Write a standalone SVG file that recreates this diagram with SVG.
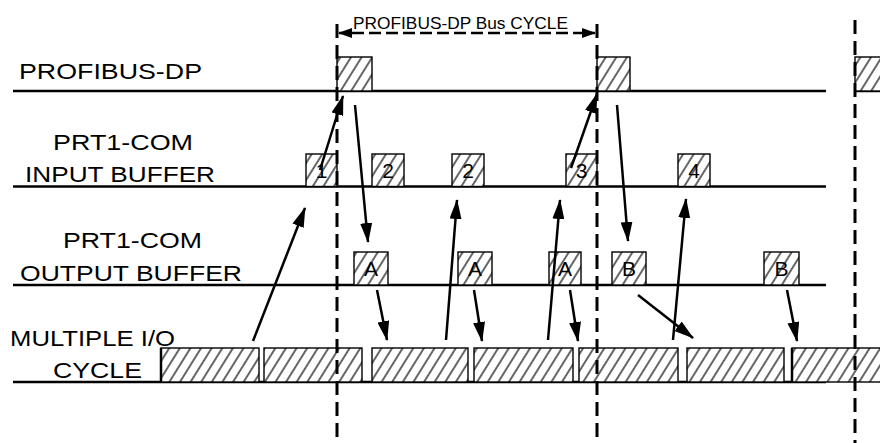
<svg xmlns="http://www.w3.org/2000/svg" width="880" height="443" viewBox="0 0 880 443">
<style>
.t{font-family:"Liberation Sans",Arial,sans-serif;font-size:22px;fill:#000}
.s{font-family:"Liberation Sans",Arial,sans-serif;font-size:17px;fill:#000}
.n{font-family:"Liberation Sans",Arial,sans-serif;font-size:21px;fill:#000;text-anchor:middle}
.base{stroke:#000;stroke-width:2.5;fill:none}
.hb{fill:url(#hatch);stroke:#000;stroke-width:1.4}
.dash{stroke:#000;stroke-width:3;stroke-dasharray:14 7;fill:none}
.arr{stroke:#000;stroke-width:2.5;fill:none;marker-end:url(#ah)}
</style>
<defs>
<pattern id="hatch" patternUnits="userSpaceOnUse" width="9" height="9" patternTransform="rotate(32)">
<rect width="9" height="9" fill="#fff"/>
<line x1="4" y1="0" x2="4" y2="9" stroke="#000" stroke-width="1.2"/>
</pattern>
<marker id="ah" markerUnits="userSpaceOnUse" markerWidth="20" markerHeight="12" refX="19" refY="6" orient="auto">
<path d="M0,0 L20,6 L0,12 Z" fill="#000"/>
</marker>
<marker id="dh" markerUnits="userSpaceOnUse" markerWidth="14" markerHeight="10" refX="13" refY="5" orient="auto">
<path d="M0,0 L14,5 L0,10 Z" fill="#000"/>
</marker>
</defs>
<rect width="880" height="443" fill="#fff"/>

<g id="timelines">
<line class="base" x1="13" y1="91" x2="826" y2="91"/>
<line class="base" x1="855" y1="91" x2="880" y2="91"/>
<line class="base" x1="13" y1="186.5" x2="826" y2="186.5"/>
<line class="base" x1="13" y1="285" x2="826" y2="285"/>
<line class="base" x1="13" y1="382" x2="826" y2="382"/>
</g>

<g id="labels">
<text class="t" x="19" y="79" textLength="183" lengthAdjust="spacingAndGlyphs">PROFIBUS-DP</text>
<text class="t" x="53" y="150" textLength="140" lengthAdjust="spacingAndGlyphs">PRT1-COM</text>
<text class="t" x="25" y="181.5" textLength="190" lengthAdjust="spacingAndGlyphs">INPUT BUFFER</text>
<text class="t" x="63" y="248" textLength="139" lengthAdjust="spacingAndGlyphs">PRT1-COM</text>
<text class="t" x="20" y="280.5" textLength="222" lengthAdjust="spacingAndGlyphs">OUTPUT BUFFER</text>
<text class="t" x="10" y="346" textLength="165" lengthAdjust="spacingAndGlyphs">MULTIPLE I/O</text>
<text class="t" x="53" y="378" textLength="89" lengthAdjust="spacingAndGlyphs">CYCLE</text>
</g>

<g id="bus-cycle">
<text class="s" x="353" y="29" textLength="215" lengthAdjust="spacingAndGlyphs">PROFIBUS-DP Bus CYCLE</text>
<line x1="352" y1="33" x2="584" y2="33" stroke="#000" stroke-width="2.5" stroke-dasharray="12 5"/>
<line x1="352" y1="33" x2="339" y2="33" stroke="#000" stroke-width="2.5" marker-end="url(#dh)"/>
<line x1="582" y1="33" x2="595" y2="33" stroke="#000" stroke-width="2.5" marker-end="url(#dh)"/>
</g>

<g id="profibus-frames">
<rect class="hb" x="337" y="57" width="35" height="34"/>
<rect class="hb" x="597" y="57" width="33" height="34"/>
<rect class="hb" x="855" y="57" width="30" height="34"/>
</g>

<g id="input-buffer">
<rect class="hb" x="306" y="154" width="31" height="32.5"/><text class="n" x="321.5" y="178">1</text>
<rect class="hb" x="372" y="154" width="32" height="32.5"/><text class="n" x="388" y="178">2</text>
<rect class="hb" x="452" y="154" width="32" height="32.5"/><text class="n" x="468" y="178">2</text>
<rect class="hb" x="566" y="154" width="31" height="32.5"/><text class="n" x="581.5" y="178">3</text>
<rect class="hb" x="678" y="154" width="32" height="32.5"/><text class="n" x="694" y="178">4</text>
</g>

<g id="output-buffer">
<rect class="hb" x="354" y="252" width="34" height="33"/><text class="n" x="371" y="276">A</text>
<rect class="hb" x="458" y="252" width="34" height="33"/><text class="n" x="475" y="276">A</text>
<rect class="hb" x="549" y="252" width="32" height="33"/><text class="n" x="565" y="276">A</text>
<rect class="hb" x="612" y="252" width="34" height="33"/><text class="n" x="629" y="276">B</text>
<rect class="hb" x="764" y="252" width="35" height="33"/><text class="n" x="781.5" y="276">B</text>
</g>

<g id="io-cycle">
<rect class="hb" x="161" y="348" width="98" height="34"/>
<line x1="161" y1="348" x2="161" y2="382" stroke="#000" stroke-width="2.5"/>
<rect class="hb" x="264" y="348" width="98" height="34"/>
<rect class="hb" x="372" y="348" width="96" height="34"/>
<rect class="hb" x="474" y="348" width="99" height="34"/>
<rect class="hb" x="579" y="348" width="99" height="34"/>
<rect class="hb" x="687" y="348" width="97" height="34"/>
<rect class="hb" x="792" y="348" width="95" height="34"/>
<line x1="792" y1="348" x2="792" y2="382" stroke="#000" stroke-width="2.5"/>
</g>

<g id="cycle-markers">
<line class="dash" x1="337" y1="24" x2="337" y2="443"/>
<line class="dash" x1="597" y1="24" x2="597" y2="443"/>
<line class="dash" x1="855" y1="20" x2="855" y2="443"/>
</g>

<g id="connectors">
<line class="arr" x1="253" y1="341" x2="305" y2="208"/>
<line class="arr" x1="320" y1="170" x2="343" y2="96"/>
<line class="arr" x1="355" y1="105" x2="368" y2="242"/>
<line class="arr" x1="377" y1="290" x2="387" y2="340"/>
<line class="arr" x1="446" y1="340" x2="457" y2="200"/>
<line class="arr" x1="474" y1="290" x2="482" y2="341"/>
<line class="arr" x1="548" y1="340" x2="560" y2="200"/>
<line class="arr" x1="570" y1="290" x2="578" y2="341"/>
<line class="arr" x1="571" y1="168" x2="597" y2="94"/>
<line class="arr" x1="617" y1="105" x2="628" y2="241"/>
<line class="arr" x1="638" y1="295" x2="693" y2="338"/>
<line class="arr" x1="673" y1="340" x2="686" y2="199"/>
<line class="arr" x1="787" y1="290" x2="797" y2="341"/>
</g>
</svg>
